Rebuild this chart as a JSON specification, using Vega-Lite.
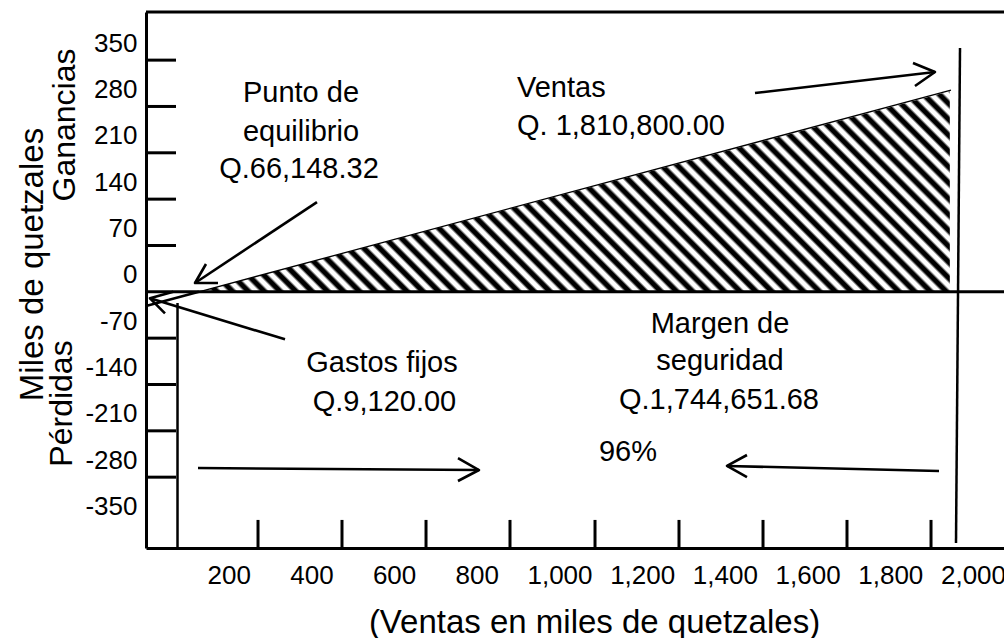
{
"$schema": "https://vega.github.io/schema/vega-lite/v6.json",
"width": 858, "height": 536,
"autosize": {"type": "none"},
"padding": {"left": 146, "top": 12, "right": 0, "bottom": 90},
"background": "white",
"title": {"text": "Año 2015", "font": "Liberation Sans", "fontSize": 30, "fontWeight": "bold", "color": "#000", "anchor": "middle", "frame": "group", "dx": -68, "dy": 5, "baseline": "alphabetic", "offset": 5},
"config": {
  "view": {"stroke": null},
  "font": "Liberation Sans",
  "axis": {"grid": false, "ticks": false, "tickSize": 0, "domainColor": "#000", "domainWidth": 3, "labelColor": "#000", "labelFont": "Liberation Sans", "labelFontSize": 26, "labelFontWeight": "normal", "titleColor": "#000", "titleFont": "Liberation Sans", "titleFontWeight": "normal", "labelOverlap": false, "labelFlush": false, "labelBound": false}
},
"datasets": {
  "profitArea": [{"x": 128, "y": 0}, {"x": 1944, "y": 303}],
  "lossLine": [{"x": 0, "y": -21.5}, {"x": 128, "y": 0}],
  "profitLine": [{"x": 128, "y": 0}, {"x": 1946.8, "y": 304.8}],
  "hlines": [{"y": 0}, {"y": 422.7}],
  "yticks": [{"y": 350}, {"y": 280}, {"y": 210}, {"y": 140}, {"y": 70}, {"y": -70}, {"y": -140}, {"y": -210}, {"y": -280}],
  "xticks": [{"x": 270.9}, {"x": 474.0}, {"x": 677.2}, {"x": 880.3}, {"x": 1085.9}, {"x": 1289.0}, {"x": 1492.2}, {"x": 1695.3}, {"x": 1898.5}],
  "vlines": [{"x": 76.2, "y": -16.9, "x2": 76.2, "y2": -387}, {"x": 1968.6, "y": 368.3, "x2": 1958.9, "y2": -379.5}],
  "arrows": [
    {"seg": "ventas_shaft", "o": 0, "x": 1472.8, "y": 300.3}, {"seg": "ventas_shaft", "o": 1, "x": 1908.1, "y": 332.0},
    {"seg": "ventas_head", "o": 0, "x": 1854.9, "y": 345.6}, {"seg": "ventas_head", "o": 1, "x": 1908.1, "y": 332.0}, {"seg": "ventas_head", "o": 2, "x": 1859.7, "y": 310.9},
    {"seg": "punto_shaft", "o": 0, "x": 413.5, "y": 135.6}, {"seg": "punto_shaft", "o": 1, "x": 118.5, "y": 13.3},
    {"seg": "punto_head", "o": 0, "x": 145.1, "y": 42.0}, {"seg": "punto_head", "o": 1, "x": 118.5, "y": 13.3}, {"seg": "punto_head", "o": 2, "x": 174.1, "y": 13.3},
    {"seg": "gastos_shaft", "o": 0, "x": 336.2, "y": -71.8}, {"seg": "gastos_shaft", "o": 1, "x": 9.7, "y": -9.8},
    {"seg": "gastos_head", "o": 0, "x": 66.0, "y": 0.2}, {"seg": "gastos_head", "o": 1, "x": 9.7, "y": -9.8}, {"seg": "gastos_head", "o": 2, "x": 45.9, "y": -32.5},
    {"seg": "right_shaft", "o": 0, "x": 125.8, "y": -266.2}, {"seg": "right_shaft", "o": 1, "x": 805.3, "y": -269.2},
    {"seg": "right_head", "o": 0, "x": 754.5, "y": -251.1}, {"seg": "right_head", "o": 1, "x": 805.3, "y": -269.2}, {"seg": "right_head", "o": 2, "x": 754.5, "y": -285.8},
    {"seg": "left_shaft", "o": 0, "x": 1917.8, "y": -270.7}, {"seg": "left_shaft", "o": 1, "x": 1405.1, "y": -263.1},
    {"seg": "left_head", "o": 0, "x": 1453.4, "y": -246.5}, {"seg": "left_head", "o": 1, "x": 1405.1, "y": -263.1}, {"seg": "left_head", "o": 2, "x": 1453.4, "y": -279.8}
  ],
  "notes": [
    {"t": "Punto de", "x": 374.8, "y": 286.7},
    {"t": "equilibrio", "x": 374.8, "y": 227.8},
    {"t": "Q.66,148.32", "x": 370.0, "y": 171.9},
    {"t": "Gastos fijos", "x": 570.7, "y": -121.1},
    {"t": "Q.9,120.00", "x": 576.8, "y": -180.1},
    {"t": "Margen de", "x": 1388.2, "y": -62.2},
    {"t": "seguridad", "x": 1388.2, "y": -118.1},
    {"t": "Q.1,744,651.68", "x": 1385.7, "y": -177.0},
    {"t": "96%", "x": 1165.7, "y": -255.6}
  ],
  "notesLeft": [
    {"t": "Ventas", "x": 897.2, "y": 294.3},
    {"t": "Q. 1,810,800.00", "x": 897.2, "y": 236.9}
  ],
  "side": [
    {"t": "Ganancias", "x": -171.7, "y": 252.0},
    {"t": "Pérdidas", "x": -179.0, "y": -168.7}
  ]
},
"layer": [
  {"data": {"name": "profitArea"},
   "mark": {"type": "area", "interpolate": "linear", "color": {"gradient": "linear", "x1": 0, "y1": 1, "x2": 1.1827, "y2": 0.684, "stops": [
{"offset":0,"color":"#000"},{"offset":0.005,"color":"#000"},{"offset":0.0083,"color":"#fff"},{"offset":0.0133,"color":"#fff"},
{"offset":0.0167,"color":"#000"},{"offset":0.0217,"color":"#000"},{"offset":0.025,"color":"#fff"},{"offset":0.03,"color":"#fff"},
{"offset":0.0333,"color":"#000"},{"offset":0.0383,"color":"#000"},{"offset":0.0417,"color":"#fff"},{"offset":0.0467,"color":"#fff"},
{"offset":0.05,"color":"#000"},{"offset":0.055,"color":"#000"},{"offset":0.0583,"color":"#fff"},{"offset":0.0633,"color":"#fff"},
{"offset":0.0667,"color":"#000"},{"offset":0.0717,"color":"#000"},{"offset":0.075,"color":"#fff"},{"offset":0.08,"color":"#fff"},
{"offset":0.0833,"color":"#000"},{"offset":0.0883,"color":"#000"},{"offset":0.0917,"color":"#fff"},{"offset":0.0967,"color":"#fff"},
{"offset":0.1,"color":"#000"},{"offset":0.105,"color":"#000"},{"offset":0.1083,"color":"#fff"},{"offset":0.1133,"color":"#fff"},
{"offset":0.1167,"color":"#000"},{"offset":0.1217,"color":"#000"},{"offset":0.125,"color":"#fff"},{"offset":0.13,"color":"#fff"},
{"offset":0.1333,"color":"#000"},{"offset":0.1383,"color":"#000"},{"offset":0.1417,"color":"#fff"},{"offset":0.1467,"color":"#fff"},
{"offset":0.15,"color":"#000"},{"offset":0.155,"color":"#000"},{"offset":0.1583,"color":"#fff"},{"offset":0.1633,"color":"#fff"},
{"offset":0.1667,"color":"#000"},{"offset":0.1717,"color":"#000"},{"offset":0.175,"color":"#fff"},{"offset":0.18,"color":"#fff"},
{"offset":0.1833,"color":"#000"},{"offset":0.1883,"color":"#000"},{"offset":0.1917,"color":"#fff"},{"offset":0.1967,"color":"#fff"},
{"offset":0.2,"color":"#000"},{"offset":0.205,"color":"#000"},{"offset":0.2083,"color":"#fff"},{"offset":0.2133,"color":"#fff"},
{"offset":0.2167,"color":"#000"},{"offset":0.2217,"color":"#000"},{"offset":0.225,"color":"#fff"},{"offset":0.23,"color":"#fff"},
{"offset":0.2333,"color":"#000"},{"offset":0.2383,"color":"#000"},{"offset":0.2417,"color":"#fff"},{"offset":0.2467,"color":"#fff"},
{"offset":0.25,"color":"#000"},{"offset":0.255,"color":"#000"},{"offset":0.2583,"color":"#fff"},{"offset":0.2633,"color":"#fff"},
{"offset":0.2667,"color":"#000"},{"offset":0.2717,"color":"#000"},{"offset":0.275,"color":"#fff"},{"offset":0.28,"color":"#fff"},
{"offset":0.2833,"color":"#000"},{"offset":0.2883,"color":"#000"},{"offset":0.2917,"color":"#fff"},{"offset":0.2967,"color":"#fff"},
{"offset":0.3,"color":"#000"},{"offset":0.305,"color":"#000"},{"offset":0.3083,"color":"#fff"},{"offset":0.3133,"color":"#fff"},
{"offset":0.3167,"color":"#000"},{"offset":0.3217,"color":"#000"},{"offset":0.325,"color":"#fff"},{"offset":0.33,"color":"#fff"},
{"offset":0.3333,"color":"#000"},{"offset":0.3383,"color":"#000"},{"offset":0.3417,"color":"#fff"},{"offset":0.3467,"color":"#fff"},
{"offset":0.35,"color":"#000"},{"offset":0.355,"color":"#000"},{"offset":0.3583,"color":"#fff"},{"offset":0.3633,"color":"#fff"},
{"offset":0.3667,"color":"#000"},{"offset":0.3717,"color":"#000"},{"offset":0.375,"color":"#fff"},{"offset":0.38,"color":"#fff"},
{"offset":0.3833,"color":"#000"},{"offset":0.3883,"color":"#000"},{"offset":0.3917,"color":"#fff"},{"offset":0.3967,"color":"#fff"},
{"offset":0.4,"color":"#000"},{"offset":0.405,"color":"#000"},{"offset":0.4083,"color":"#fff"},{"offset":0.4133,"color":"#fff"},
{"offset":0.4167,"color":"#000"},{"offset":0.4217,"color":"#000"},{"offset":0.425,"color":"#fff"},{"offset":0.43,"color":"#fff"},
{"offset":0.4333,"color":"#000"},{"offset":0.4383,"color":"#000"},{"offset":0.4417,"color":"#fff"},{"offset":0.4467,"color":"#fff"},
{"offset":0.45,"color":"#000"},{"offset":0.455,"color":"#000"},{"offset":0.4583,"color":"#fff"},{"offset":0.4633,"color":"#fff"},
{"offset":0.4667,"color":"#000"},{"offset":0.4717,"color":"#000"},{"offset":0.475,"color":"#fff"},{"offset":0.48,"color":"#fff"},
{"offset":0.4833,"color":"#000"},{"offset":0.4883,"color":"#000"},{"offset":0.4917,"color":"#fff"},{"offset":0.4967,"color":"#fff"},
{"offset":0.5,"color":"#000"},{"offset":0.505,"color":"#000"},{"offset":0.5083,"color":"#fff"},{"offset":0.5133,"color":"#fff"},
{"offset":0.5167,"color":"#000"},{"offset":0.5217,"color":"#000"},{"offset":0.525,"color":"#fff"},{"offset":0.53,"color":"#fff"},
{"offset":0.5333,"color":"#000"},{"offset":0.5383,"color":"#000"},{"offset":0.5417,"color":"#fff"},{"offset":0.5467,"color":"#fff"},
{"offset":0.55,"color":"#000"},{"offset":0.555,"color":"#000"},{"offset":0.5583,"color":"#fff"},{"offset":0.5633,"color":"#fff"},
{"offset":0.5667,"color":"#000"},{"offset":0.5717,"color":"#000"},{"offset":0.575,"color":"#fff"},{"offset":0.58,"color":"#fff"},
{"offset":0.5833,"color":"#000"},{"offset":0.5883,"color":"#000"},{"offset":0.5917,"color":"#fff"},{"offset":0.5967,"color":"#fff"},
{"offset":0.6,"color":"#000"},{"offset":0.605,"color":"#000"},{"offset":0.6083,"color":"#fff"},{"offset":0.6133,"color":"#fff"},
{"offset":0.6167,"color":"#000"},{"offset":0.6217,"color":"#000"},{"offset":0.625,"color":"#fff"},{"offset":0.63,"color":"#fff"},
{"offset":0.6333,"color":"#000"},{"offset":0.6383,"color":"#000"},{"offset":0.6417,"color":"#fff"},{"offset":0.6467,"color":"#fff"},
{"offset":0.65,"color":"#000"},{"offset":0.655,"color":"#000"},{"offset":0.6583,"color":"#fff"},{"offset":0.6633,"color":"#fff"},
{"offset":0.6667,"color":"#000"},{"offset":0.6717,"color":"#000"},{"offset":0.675,"color":"#fff"},{"offset":0.68,"color":"#fff"},
{"offset":0.6833,"color":"#000"},{"offset":0.6883,"color":"#000"},{"offset":0.6917,"color":"#fff"},{"offset":0.6967,"color":"#fff"},
{"offset":0.7,"color":"#000"},{"offset":0.705,"color":"#000"},{"offset":0.7083,"color":"#fff"},{"offset":0.7133,"color":"#fff"},
{"offset":0.7167,"color":"#000"},{"offset":0.7217,"color":"#000"},{"offset":0.725,"color":"#fff"},{"offset":0.73,"color":"#fff"},
{"offset":0.7333,"color":"#000"},{"offset":0.7383,"color":"#000"},{"offset":0.7417,"color":"#fff"},{"offset":0.7467,"color":"#fff"},
{"offset":0.75,"color":"#000"},{"offset":0.755,"color":"#000"},{"offset":0.7583,"color":"#fff"},{"offset":0.7633,"color":"#fff"},
{"offset":0.7667,"color":"#000"},{"offset":0.7717,"color":"#000"},{"offset":0.775,"color":"#fff"},{"offset":0.78,"color":"#fff"},
{"offset":0.7833,"color":"#000"},{"offset":0.7883,"color":"#000"},{"offset":0.7917,"color":"#fff"},{"offset":0.7967,"color":"#fff"},
{"offset":0.8,"color":"#000"},{"offset":0.805,"color":"#000"},{"offset":0.8083,"color":"#fff"},{"offset":0.8133,"color":"#fff"},
{"offset":0.8167,"color":"#000"},{"offset":0.8217,"color":"#000"},{"offset":0.825,"color":"#fff"},{"offset":0.83,"color":"#fff"},
{"offset":0.8333,"color":"#000"},{"offset":0.8383,"color":"#000"},{"offset":0.8417,"color":"#fff"},{"offset":0.8467,"color":"#fff"},
{"offset":0.85,"color":"#000"},{"offset":0.855,"color":"#000"},{"offset":0.8583,"color":"#fff"},{"offset":0.8633,"color":"#fff"},
{"offset":0.8667,"color":"#000"},{"offset":0.8717,"color":"#000"},{"offset":0.875,"color":"#fff"},{"offset":0.88,"color":"#fff"},
{"offset":0.8833,"color":"#000"},{"offset":0.8883,"color":"#000"},{"offset":0.8917,"color":"#fff"},{"offset":0.8967,"color":"#fff"},
{"offset":0.9,"color":"#000"},{"offset":0.905,"color":"#000"},{"offset":0.9083,"color":"#fff"},{"offset":0.9133,"color":"#fff"},
{"offset":0.9167,"color":"#000"},{"offset":0.9217,"color":"#000"},{"offset":0.925,"color":"#fff"},{"offset":0.93,"color":"#fff"},
{"offset":0.9333,"color":"#000"},{"offset":0.9383,"color":"#000"},{"offset":0.9417,"color":"#fff"},{"offset":0.9467,"color":"#fff"},
{"offset":0.95,"color":"#000"},{"offset":0.955,"color":"#000"},{"offset":0.9583,"color":"#fff"},{"offset":0.9633,"color":"#fff"},
{"offset":0.9667,"color":"#000"},{"offset":0.9717,"color":"#000"},{"offset":0.975,"color":"#fff"},{"offset":0.98,"color":"#fff"},
{"offset":0.9833,"color":"#000"},{"offset":0.9883,"color":"#000"},{"offset":0.9917,"color":"#fff"},{"offset":0.9967,"color":"#fff"},
{"offset":1,"color":"#000"}
   ]}},
   "encoding": {
     "x": {"field": "x", "type": "quantitative", "scale": {"domain": [0, 2075], "nice": false, "zero": false},
           "axis": {"title": "(Ventas en miles de quetzales)", "values": [200, 400, 600, 800, 1000, 1200, 1400, 1600, 1800, 2000], "format": ",d", "labelPadding": 35, "labelBaseline": "alphabetic", "titleFontSize": 33, "titleX": 448, "titleY": 84, "titleBaseline": "alphabetic", "titleAlign": "center"}},
     "y": {"field": "y", "type": "quantitative", "scale": {"domain": [-387, 422.7], "nice": false, "zero": false},
           "axis": {"title": "Miles de quetzales", "values": [350, 280, 210, 140, 70, 0, -70, -140, -210, -280, -350], "labelExpr": "datum.value < 0 ? '-' + abs(datum.value) : '' + datum.value", "labelPadding": 9, "labelOffset": -17, "labelBaseline": "middle", "titleFontSize": 33, "titleX": -104, "titleY": 252, "titleAngle": 270, "titleBaseline": "alphabetic", "titleAlign": "center"}},
     "y2": {"datum": 0}
   }},
  {"data": {"name": "lossLine"}, "mark": {"type": "line", "color": "#000", "strokeWidth": 2.5},
   "encoding": {"x": {"field": "x", "type": "quantitative"}, "y": {"field": "y", "type": "quantitative"}}},
  {"data": {"name": "profitLine"}, "mark": {"type": "line", "color": "#000", "strokeWidth": 1.3},
   "encoding": {"x": {"field": "x", "type": "quantitative"}, "y": {"field": "y", "type": "quantitative"}}},
  {"data": {"name": "hlines"}, "mark": {"type": "rule", "color": "#000", "strokeWidth": 3},
   "encoding": {"x": {"datum": 0, "type": "quantitative"}, "x2": {"datum": 2075}, "y": {"field": "y", "type": "quantitative"}}},
  {"data": {"name": "yticks"}, "mark": {"type": "rule", "color": "#000", "strokeWidth": 3},
   "encoding": {"x": {"datum": 0, "type": "quantitative"}, "x2": {"datum": 72.6}, "y": {"field": "y", "type": "quantitative"}}},
  {"data": {"name": "xticks"}, "mark": {"type": "rule", "color": "#000", "strokeWidth": 3},
   "encoding": {"x": {"field": "x", "type": "quantitative"}, "y": {"datum": -387, "type": "quantitative"}, "y2": {"datum": -344.6}}},
  {"data": {"name": "vlines"}, "mark": {"type": "rule", "color": "#000", "strokeWidth": 2.5},
   "encoding": {"x": {"field": "x", "type": "quantitative"}, "y": {"field": "y", "type": "quantitative"}, "x2": {"field": "x2"}, "y2": {"field": "y2"}}},
  {"data": {"name": "arrows"}, "mark": {"type": "line", "color": "#000", "strokeWidth": 2.6, "strokeJoin": "round"},
   "encoding": {"x": {"field": "x", "type": "quantitative"}, "y": {"field": "y", "type": "quantitative"}, "detail": {"field": "seg"}, "order": {"field": "o"}}},
  {"data": {"name": "notes"}, "mark": {"type": "text", "font": "Liberation Sans", "fontSize": 29, "color": "#000", "align": "center", "baseline": "alphabetic"},
   "encoding": {"x": {"field": "x", "type": "quantitative"}, "y": {"field": "y", "type": "quantitative"}, "text": {"field": "t"}}},
  {"data": {"name": "notesLeft"}, "mark": {"type": "text", "font": "Liberation Sans", "fontSize": 29, "color": "#000", "align": "left", "baseline": "alphabetic"},
   "encoding": {"x": {"field": "x", "type": "quantitative"}, "y": {"field": "y", "type": "quantitative"}, "text": {"field": "t"}}},
  {"data": {"name": "side"}, "mark": {"type": "text", "font": "Liberation Sans", "fontSize": 32, "color": "#000", "align": "center", "baseline": "alphabetic", "angle": 270},
   "encoding": {"x": {"field": "x", "type": "quantitative"}, "y": {"field": "y", "type": "quantitative"}, "text": {"field": "t"}}}
]
}
